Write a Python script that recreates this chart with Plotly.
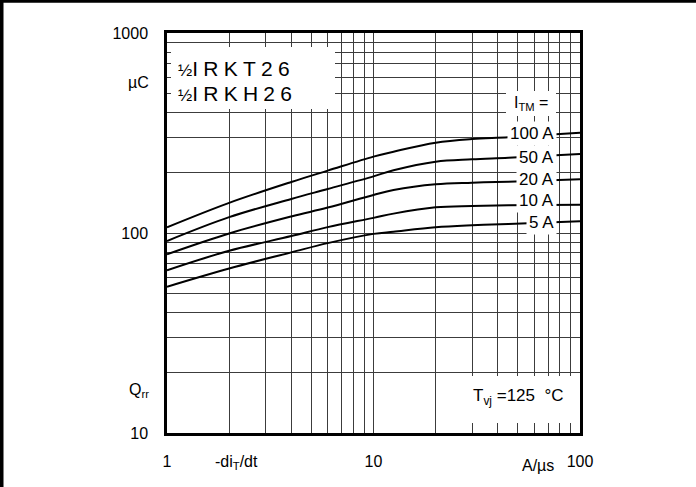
import plotly.graph_objects as go

# Rate of fall of on-state current -di_T/dt (A/us)
didt = [1, 2, 4, 6, 10, 12.5, 20, 30, 45, 100]

# Recovered charge Q_rr (uC) for each on-state current I_TM
qrr_100A = [106.8, 141.5, 180, 205, 241, 255, 282.8, 295, 301, 317]
qrr_50A = [91.2, 120, 148, 166, 192, 206, 227.3, 233.6, 237.9, 248]
qrr_20A = [78.3, 99.5, 121, 134, 155, 164, 175.2, 178.4, 180.5, 185.6]
qrr_10A = [65.1, 81.5, 96.5, 107, 119, 125, 134.5, 136.5, 137.6, 138.5]
qrr_5A = [53.9, 66.5, 80, 89, 99, 101.5, 106.8, 109.3, 111, 114.4]

series = [("100 A", qrr_100A), ("50 A", qrr_50A), ("20 A", qrr_20A),
          ("10 A", qrr_10A), ("5 A", qrr_5A)]

x_ticks = [1, 10, 100]
x_ticktext = ["1", "10", "100"]
y_ticks = [10, 100, 1000]
y_ticktext = ["10", "100", "1000"]
x_minor = [2, 3, 4, 5, 6, 7, 8, 9, 20, 30, 40, 50, 60, 70, 80, 90]
y_minor = [20, 30, 40, 50, 60, 70, 80, 90, 200, 300, 400, 500, 600, 700, 800, 900]

FONT = "Liberation Sans, Arial, Helvetica, sans-serif"
W, H = 696, 487
L, R, T, B = 167, 116, 33, 54
PW, PH = W - L - R, H - T - B


def px(x):
    return (x - L) / PW


def py(y):
    return (H - B - y) / PH


fig = go.Figure()
for name, vals in series:
    fig.add_trace(go.Scatter(x=didt, y=vals, mode="lines", name=name,
                             line=dict(color="black", width=2, shape="spline", smoothing=1.0),
                             showlegend=False, hoverinfo="skip"))

grid_col = "#3c3c3c"
fig.update_xaxes(type="log", range=[0, 2], tickmode="array", tickvals=x_ticks, ticktext=x_ticktext,
                 showgrid=True, gridcolor=grid_col, gridwidth=1.4,
                 minor=dict(tickvals=x_minor, showgrid=True, gridcolor=grid_col, gridwidth=1.4, ticks=""),
                 showline=True, linecolor="black", linewidth=2.5, mirror=True, ticks="",
                 ticklabelstandoff=12, tickfont=dict(family=FONT, size=16, color="black"), zeroline=False)
fig.update_yaxes(type="log", range=[1, 3], tickmode="array", tickvals=y_ticks, ticktext=y_ticktext,
                 showgrid=True, gridcolor=grid_col, gridwidth=1.4,
                 minor=dict(tickvals=y_minor, showgrid=True, gridcolor=grid_col, gridwidth=1.4, ticks=""),
                 showline=True, linecolor="black", linewidth=2.5, mirror=True, ticks="",
                 ticklabelstandoff=13, tickfont=dict(family=FONT, size=16, color="black"), zeroline=False)

shapes = [
    # white label boxes hiding the grid
    dict(type="rect", xref="paper", yref="paper", x0=px(171), x1=px(335), y0=py(109), y1=py(47),
         fillcolor="white", line=dict(width=0), layer="above"),
    dict(type="rect", xref="paper", yref="paper", x0=px(470), x1=px(576), y0=py(423), y1=py(376),
         fillcolor="white", line=dict(width=0), layer="above"),
    dict(type="rect", xref="paper", yref="paper", x0=px(506), x1=px(556), y0=py(116), y1=py(91),
         fillcolor="white", line=dict(width=0), layer="above"),
    # outer frame (left and top edges)
    dict(type="line", xref="paper", yref="paper", x0=px(1.5), x1=px(1.5), y0=py(-5), y1=py(495),
         line=dict(color="black", width=4)),
    dict(type="line", xref="paper", yref="paper", x0=px(-5), x1=px(705), y0=py(1.2), y1=py(1.2),
         line=dict(color="black", width=3)),
]

annotations = []
label_y = {"100 A": 134, "50 A": 157, "20 A": 179, "10 A": 200, "5 A": 222}
for name, _ in series:
    annotations.append(dict(text=name, xref="paper", yref="paper", x=px(557), y=py(label_y[name]),
                            xanchor="right", yanchor="middle", showarrow=False,
                            font=dict(family=FONT, size=17, color="black"),
                            bgcolor="white", borderpad=2))
gap = "\u2005"
annotations += [
    dict(text="I<sub>TM</sub> =", xref="paper", yref="paper", x=px(550), y=py(103),
         xanchor="right", yanchor="middle", showarrow=False,
         font=dict(family=FONT, size=16, color="black")),
    dict(text="<span style='font-size:17px'>½</span>" + gap.join("IRKT26"),
         xref="paper", yref="paper", x=px(176), y=py(69),
         xanchor="left", yanchor="middle", showarrow=False,
         font=dict(family=FONT, size=21, color="black")),
    dict(text="<span style='font-size:17px'>½</span>" + gap.join("IRKH26"),
         xref="paper", yref="paper", x=px(176), y=py(94),
         xanchor="left", yanchor="middle", showarrow=False,
         font=dict(family=FONT, size=21, color="black")),
    dict(text="T<sub>vj</sub> =125  °C", xref="paper", yref="paper", x=px(566), y=py(397),
         xanchor="right", yanchor="middle", showarrow=False,
         font=dict(family=FONT, size=17, color="black")),
    dict(text="µC", xref="paper", yref="paper", x=px(151), y=py(82),
         xanchor="right", yanchor="middle", showarrow=False,
         font=dict(family=FONT, size=16, color="black")),
    dict(text="Q<sub>rr</sub>", xref="paper", yref="paper", x=px(151), y=py(390),
         xanchor="right", yanchor="middle", showarrow=False,
         font=dict(family=FONT, size=16, color="black")),
    dict(text="-di<sub>T</sub>/dt", xref="paper", yref="paper", x=px(236), y=py(462),
         xanchor="center", yanchor="middle", showarrow=False,
         font=dict(family=FONT, size=16, color="black")),
    dict(text="A/µs", xref="paper", yref="paper", x=px(538), y=py(465),
         xanchor="center", yanchor="middle", showarrow=False,
         font=dict(family=FONT, size=16, color="black")),
]

fig.update_layout(width=W, height=H, margin=dict(l=L, r=R, t=T, b=B, pad=0),
                  paper_bgcolor="white", plot_bgcolor="white",
                  shapes=shapes, annotations=annotations, showlegend=False)

fig.write_html("out.html")
